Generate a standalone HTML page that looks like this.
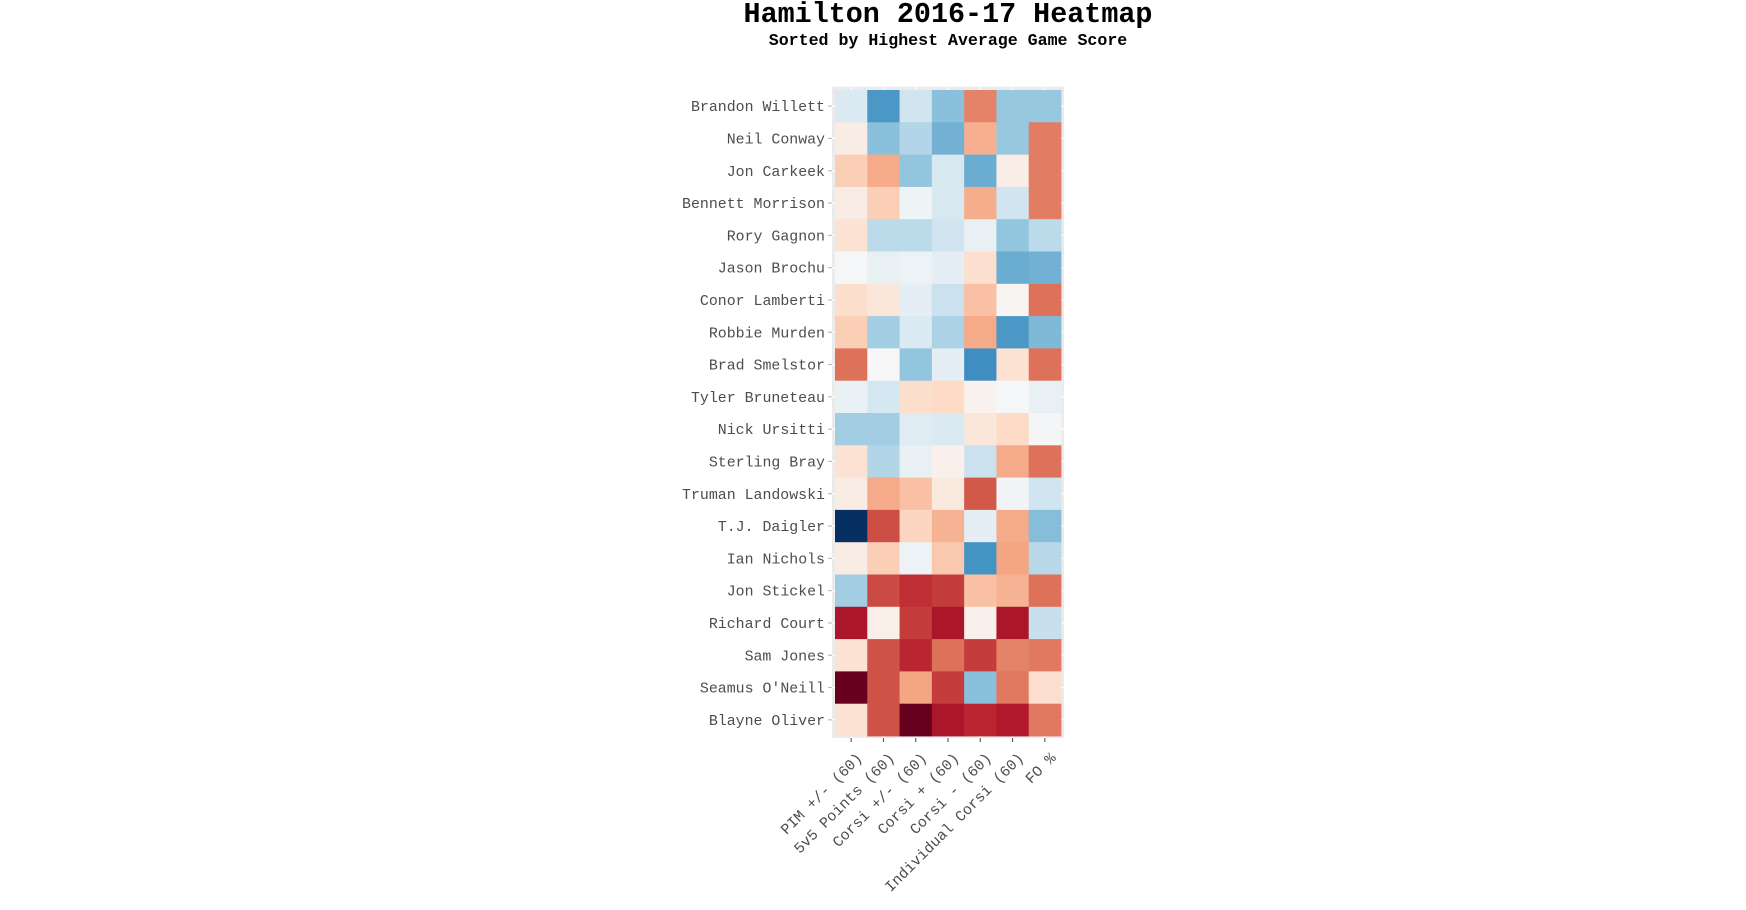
<!DOCTYPE html>
<html><head><meta charset="utf-8"><style>
html,body{margin:0;padding:0;background:#fff;}
svg{display:block;}
</style></head><body>
<svg id="chart" width="1746" height="910" viewBox="0 0 1746 910" xmlns="http://www.w3.org/2000/svg">
<text x="948" y="22" text-anchor="middle" font-family="Liberation Mono, monospace" font-weight="bold" font-size="28.4" fill="#000">Hamilton 2016-17 Heatmap</text>
<text x="948" y="45" text-anchor="middle" font-family="Liberation Mono, monospace" font-weight="bold" font-size="16.6" fill="#000">Sorted by Highest Average Game Score</text>
<rect x="832" y="86.7" width="232" height="651.3" fill="#ebebeb"/>
<g id="grid"></g>
<g id="tiles"></g>
<g id="yaxis"></g>
<g id="xaxis"></g>
</svg>
<script>
const players = ["Brandon Willett","Neil Conway","Jon Carkeek","Bennett Morrison","Rory Gagnon","Jason Brochu","Conor Lamberti","Robbie Murden","Brad Smelstor","Tyler Bruneteau","Nick Ursitti","Sterling Bray","Truman Landowski","T.J. Daigler","Ian Nichols","Jon Stickel","Richard Court","Sam Jones","Seamus O'Neill","Blayne Oliver"];
const metrics = ["PIM +/- (60)","5v5 Points (60)","Corsi +/- (60)","Corsi + (60)","Corsi - (60)","Individual Corsi (60)","FO %"];
const values = [
[0.15,0.58,0.2,0.42,-0.5,0.38,0.38],
[-0.08,0.42,0.3,0.48,-0.36,0.38,-0.52],
[-0.25,-0.38,0.4,0.17,0.5,-0.07,-0.52],
[-0.08,-0.25,0.05,0.17,-0.37,0.2,-0.52],
[-0.15,0.27,0.27,0.2,0.08,0.4,0.27],
[0.01,0.08,0.06,0.1,-0.17,0.5,0.48],
[-0.18,-0.12,0.1,0.22,-0.3,-0.02,-0.55],
[-0.25,0.35,0.15,0.32,-0.38,0.58,0.45],
[-0.55,0.0,0.4,0.1,0.62,-0.15,-0.55],
[0.07,0.18,-0.18,-0.2,-0.04,0.01,0.08],
[0.35,0.35,0.12,0.15,-0.12,-0.2,0.02],
[-0.15,0.3,0.08,-0.05,0.22,-0.38,-0.55],
[-0.08,-0.38,-0.3,-0.1,-0.62,0.03,0.2],
[1.0,-0.65,-0.22,-0.35,0.1,-0.38,0.43],
[-0.08,-0.25,0.06,-0.27,0.6,-0.4,0.28],
[0.35,-0.66,-0.74,-0.7,-0.3,-0.35,-0.55],
[-0.82,-0.06,-0.7,-0.82,-0.05,-0.82,0.23],
[-0.15,-0.64,-0.76,-0.55,-0.7,-0.5,-0.53],
[-1.0,-0.64,-0.4,-0.7,0.42,-0.53,-0.17],
[-0.15,-0.64,-1.0,-0.82,-0.76,-0.8,-0.53]
];
const NS="http://www.w3.org/2000/svg";
const x0=835,x1=1061,y0=90,y1=736;
const cw=(x1-x0)/metrics.length, ch=(y1-y0)/players.length;
function xPos(i){return x0+i*cw;}
function yPos(j){return y0+j*ch;}
const pal=["#67001f","#b2182b","#d6604d","#f4a582","#fddbc7","#f7f7f7","#d1e5f0","#92c5de","#4393c3","#2166ac","#053061"];
function hex(h){return [1,3,5].map(k=>parseInt(h.substr(k,2),16));}
function color(v){
  let t=(v+1)/2*(pal.length-1); t=Math.max(0,Math.min(pal.length-1,t));
  const i=Math.min(Math.floor(t),pal.length-2), f=t-i;
  const a=hex(pal[i]), b=hex(pal[i+1]);
  return "rgb("+a.map((c,k)=>Math.round(c+(b[k]-c)*f)).join(",")+")";
}
function mk(tag,attrs,parent){const e=document.createElementNS(NS,tag);for(const k in attrs)e.setAttribute(k,attrs[k]);parent.appendChild(e);return e;}
const grid=document.getElementById('grid'),tiles=document.getElementById('tiles'),ya=document.getElementById('yaxis'),xa=document.getElementById('xaxis');
metrics.forEach((m,i)=>{
  const cx=xPos(i)+cw/2;
  const g=mk('line',{x1:cx,x2:cx,y1:86.7,y2:738,stroke:'#fff','stroke-width':1.1},grid);
  
  
  const t=mk('line',{x1:cx,x2:cx,y1:738,y2:742,stroke:'#555','stroke-width':1.1},xa);
  
  
  const lx=cx+5, ly=752;
  const tx=mk('text',{x:lx,y:ly,'text-anchor':'end','dominant-baseline':'hanging',transform:'rotate(-45 '+lx+' '+ly+')','font-family':'Liberation Mono, monospace','font-size':'15',fill:'#4d4d4d'},xa);
  tx.textContent=m;
  
  
});
players.forEach((p,j)=>{
  const cy=yPos(j)+ch/2;
  const g=mk('line',{x1:832,x2:1064,y1:cy,y2:cy,stroke:'#fff','stroke-width':1.1},grid);
  
  
  const t=mk('line',{x1:828,x2:832,y1:cy,y2:cy,stroke:'#bbb','stroke-width':1.1},ya);
  
  
  const tx=mk('text',{x:825,y:cy+5,'text-anchor':'end','font-family':'Liberation Mono, monospace','font-size':'14.9',fill:'#4d4d4d'},ya);
  tx.textContent=p;
  
  
  metrics.forEach((m,i)=>{
    const r=mk('rect',{x:xPos(i),y:yPos(j),width:cw+0.4,height:ch+0.4,fill:color(values[j][i])},tiles);
    
    
  });
});
</script>
</body></html>
